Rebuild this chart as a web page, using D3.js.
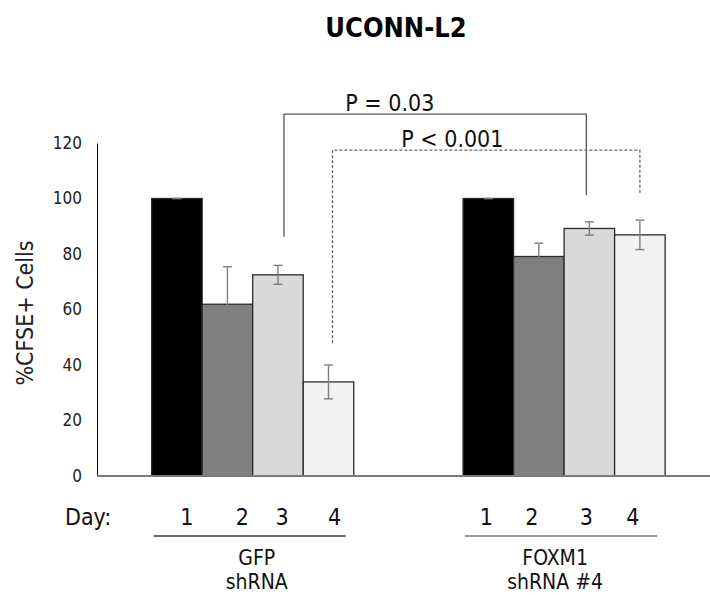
<!DOCTYPE html>
<html>
<head>
<meta charset="utf-8">
<script src="https://cdn.jsdelivr.net/npm/d3@7"></script>
<style>
  html, body { margin: 0; padding: 0; background: #fff; }
  svg { display: block; font-family: "DejaVu Sans Condensed", "DejaVu Sans", sans-serif; }
</style>
</head>
<body>
<svg id="chart" width="710" height="595"></svg>
<script>
// ---------------- data ----------------
const title = "UCONN-L2";
const yLabel = "%CFSE+ Cells";
const groups = ["GFP", "FOXM1"];
const groupLabels = [["GFP", "shRNA"], ["FOXM1", "shRNA #4"]];
const days = ["1", "2", "3", "4"];
const gfpValues = [100, 61.9, 72.5, 33.9];
const gfpErrors = [0, 13.5, 3.4, 6.1];
const foxm1Values = [100, 79.1, 89.2, 86.9];
const foxm1Errors = [0, 4.8, 2.4, 5.3];
const yTicks = [0, 20, 40, 60, 80, 100, 120];
const brackets = [
  { label: "P = 0.03",  fromGroup: "GFP", fromDay: "3", toGroup: "FOXM1", toDay: "3", top: 130.4, leftEnd: 86.2, rightEnd: 101.3, dashed: false },
  { label: "P < 0.001", fromGroup: "GFP", fromDay: "4", toGroup: "FOXM1", toDay: "4", top: 117.4, leftEnd: 47.8, rightEnd: 101.9, dashed: true }
];

// ---------------- styles / layout ----------------
const dayFills = ["#000000", "#808080", "#d9d9d9", "#f2f2f2"];
const dayNudge = { GFP: [10, 15, 4, 6], FOXM1: [-2, -7, -3, -7] };

const svg = d3.select("#chart");
const plotLeft = 97, plotBottom = 476, plotTop = 143;

const seriesByGroup = {
  GFP: gfpValues.map((v, i) => ({ group: "GFP", day: days[i], value: v, err: gfpErrors[i] })),
  FOXM1: foxm1Values.map((v, i) => ({ group: "FOXM1", day: days[i], value: v, err: foxm1Errors[i] }))
};
const allBars = groups.flatMap(g => seriesByGroup[g]);

const y = d3.scaleLinear().domain([0, 120]).range([plotBottom, plotTop]);
const x0 = d3.scaleBand().domain(groups).range([plotLeft, plotLeft + 2 * 311.4]).paddingInner(0.351).paddingOuter(0.1755);
const x1 = d3.scaleBand().domain(days).range([0, x0.bandwidth()]).padding(0);
const cx = (g, d) => x0(g) + x1(d) + x1.bandwidth() / 2;

// title
svg.append("text").attr("x", 396).attr("y", 37).attr("text-anchor", "middle")
  .attr("font-size", 27).attr("font-weight", "bold").attr("fill", "#000").text(title);

// y axis
const yAxis = d3.axisLeft(y).tickValues(yTicks).tickSize(0).tickPadding(15);
const ya = svg.append("g").attr("transform", `translate(${plotLeft},0)`).call(yAxis);
ya.select(".domain").attr("stroke", "#000").attr("stroke-width", 1);
ya.selectAll("text").attr("font-size", 17).attr("fill", "#222")
  .attr("font-family", '"DejaVu Sans Condensed", "DejaVu Sans", sans-serif');

svg.append("text").attr("transform", `translate(33,${313}) rotate(-90)`)
  .attr("text-anchor", "middle").attr("font-size", 23).attr("fill", "#222").text(yLabel);

// bars
svg.append("g").selectAll("rect").data(allBars).join("rect")
  .attr("x", d => x0(d.group) + x1(d.day))
  .attr("y", d => y(d.value))
  .attr("width", x1.bandwidth())
  .attr("height", d => y(0) - y(d.value))
  .attr("fill", d => dayFills[days.indexOf(d.day)])
  .attr("stroke", "#2b2b2b").attr("stroke-width", 1.3);

// baseline
svg.append("line").attr("x1", plotLeft).attr("x2", 710).attr("y1", y(0)).attr("y2", y(0))
  .attr("stroke", "#7a7a7a").attr("stroke-width", 2);

// error bars
const eg = svg.append("g").attr("stroke", "#7f7f7f").attr("stroke-width", 1.4);
allBars.forEach(d => {
  const c = cx(d.group, d.day);
  const hi = y(d.value + d.err), lo = y(d.value - d.err);
  eg.append("line").attr("x1", c).attr("x2", c).attr("y1", hi).attr("y2", lo);
  eg.append("line").attr("x1", c - 4.5).attr("x2", c + 4.5).attr("y1", hi).attr("y2", hi);
  eg.append("line").attr("x1", c - 4.5).attr("x2", c + 4.5).attr("y1", lo).attr("y2", lo);
});

// brackets
brackets.forEach(b => {
  const xl = cx(b.fromGroup, b.fromDay) + (b.dashed ? 4 : 6);
  const xr = cx(b.toGroup, b.toDay) - (b.dashed ? 0 : 3);
  const path = d3.path();
  path.moveTo(xl, y(b.leftEnd));
  path.lineTo(xl, y(b.top));
  path.lineTo(xr, y(b.top));
  path.lineTo(xr, y(b.rightEnd));
  svg.append("path").attr("d", path.toString()).attr("fill", "none")
    .attr("stroke", b.dashed ? "#666" : "#555").attr("stroke-width", 1.3)
    .attr("stroke-dasharray", b.dashed ? "3,2" : null);
  svg.append("text").attr("x", xl + (xr - xl) * (b.dashed ? 0.39 : 0.35)).attr("y", y(b.top) - 3)
    .attr("text-anchor", "middle").attr("font-size", 23).attr("fill", "#111").text(b.label);
});

// bottom labels
svg.append("text").attr("x", 65).attr("y", 525).attr("font-size", 23).attr("fill", "#111").text("Day:");
groups.forEach((g, gi) => {
  days.forEach((d, i) => {
    svg.append("text").attr("x", cx(g, d) + dayNudge[g][i]).attr("y", 525)
      .attr("text-anchor", "middle").attr("font-size", 23).attr("fill", "#111").text(d);
  });
  const gx0 = x0(g), gx1 = x0(g) + x0.bandwidth();
  svg.append("line").attr("x1", gx0 + 2).attr("x2", gx1 - 8).attr("y1", 536).attr("y2", 536)
    .attr("stroke", gi === 0 ? "#333" : "#777").attr("stroke-width", 1.4);
  const mid = (gx0 + gx1) / 2 + (gi === 0 ? 4 : -9);
  groupLabels[gi].forEach((t, li) => {
    svg.append("text").attr("x", mid).attr("y", 565 + li * 24).attr("text-anchor", "middle")
      .attr("font-size", 21).attr("fill", "#111").text(t);
  });
});
</script>
</body>
</html>
